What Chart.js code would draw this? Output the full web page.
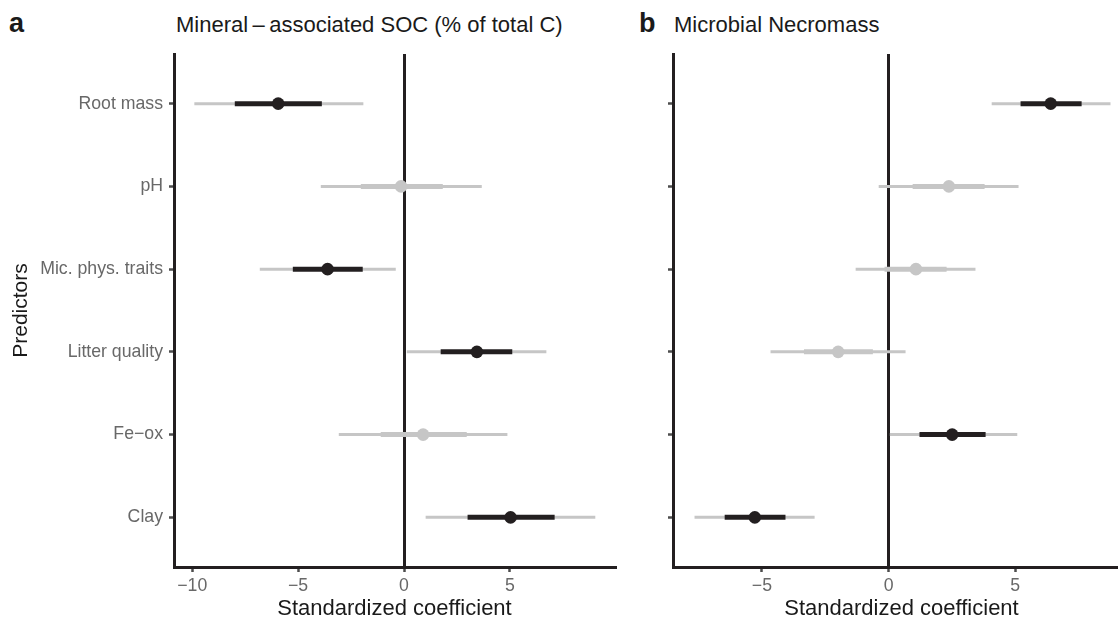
<!DOCTYPE html>
<html>
<head>
<meta charset="utf-8">
<script src="https://cdn.jsdelivr.net/npm/chart.js@4.4.1/dist/chart.umd.min.js"></script>
<style>
  html, body { margin: 0; padding: 0; background: #fff; }
  body { width: 1118px; height: 618px; overflow: hidden; position: relative; font-family: "Liberation Sans", Arial, sans-serif; }
  canvas { position: absolute; top: 0; }
  .lab { position: absolute; line-height: 1; color: #1a1a1a; white-space: nowrap; }
</style>
</head>
<body>
<div class="lab" style="left:9px;top:10px;font-size:27px;font-weight:bold">a</div>
<div class="lab" style="left:176px;top:14px;font-size:22px">Mineral&#8201;–&#8201;associated SOC (% of total C)</div>
<div class="lab" style="left:639px;top:10px;font-size:27px;font-weight:bold">b</div>
<div class="lab" style="left:674px;top:14px;font-size:22px">Microbial Necromass</div>
<canvas id="chartA" width="625" height="624" style="left:0"></canvas>
<canvas id="chartB" width="500" height="624" style="left:630px"></canvas>
<script>
// predictors, top to bottom
const predictors = ['Root mass', 'pH', 'Mic. phys. traits', 'Litter quality', 'Fe−ox', 'Clay'];

// a: mineral-associated SOC
const socEst     = [-5.94, -0.14, -3.61, 3.44, 0.90, 5.03];
const socLoOuter = [-9.90, -3.93, -6.81, 0.13, -3.08, 1.02];
const socHiOuter = [-1.92, 3.67, -0.39, 6.72, 4.88, 9.03];
const socLoInner = [-7.99, -2.04, -5.25, 1.73, -1.10, 3.00];
const socHiInner = [-3.88, 1.83, -1.95, 5.11, 2.96, 7.11];
const socSig     = [true, false, true, true, false, true];

// b: microbial necromass
const necEst     = [6.40, 2.38, 1.08, -1.99, 2.51, -5.28];
const necLoOuter = [4.07, -0.39, -1.30, -4.66, 0.05, -7.66];
const necHiOuter = [8.76, 5.13, 3.43, 0.67, 5.08, -2.92];
const necLoInner = [5.21, 0.95, -0.16, -3.34, 1.22, -6.47];
const necHiInner = [7.62, 3.79, 2.29, -0.62, 3.83, -4.07];
const necSig     = [true, false, false, false, true, true];

const BLACK = '#231f20';
const GREY = '#c6c6c6';
const TICK_GREY = '#4d4d4d';
const LABEL_GREY = '#686868';
const FONT = '"Liberation Sans", Arial, sans-serif';

// each interval becomes two points followed by a gap
function intervals(lo, hi) {
    const pts = [];
    lo.forEach((v, i) => {
        pts.push({x: v, y: i + 1}, {x: hi[i], y: i + 1}, {x: null, y: null});
    });
    return pts;
}

function makePanel(id, est, loO, hiO, loI, hiI, sig, xMin, xMax, yWidth, showLabels) {
    return new Chart(document.getElementById(id), {
        type: 'scatter',
        data: {
            datasets: [
                {
                    data: est.map((v, i) => ({x: v, y: i + 1})),
                    pointRadius: 6.3,
                    pointHoverRadius: 6.3,
                    pointBorderWidth: 0,
                    pointBackgroundColor: sig.map(s => s ? BLACK : GREY),
                    order: 0
                },
                {
                    data: intervals(loI, hiI),
                    showLine: true,
                    spanGaps: false,
                    pointRadius: 0,
                    borderWidth: 5,
                    borderColor: GREY,
                    segment: {
                        borderColor: ctx => sig[Math.floor(ctx.p0DataIndex / 3)] ? BLACK : GREY
                    },
                    order: 1
                },
                {
                    data: intervals(loO, hiO),
                    showLine: true,
                    spanGaps: false,
                    pointRadius: 0,
                    borderWidth: 3,
                    borderColor: GREY,
                    order: 2
                }
            ]
        },
        options: {
            responsive: false,
            animation: false,
            devicePixelRatio: 1,
            layout: {
                autoPadding: false,
                padding: { top: 54, right: showLabels ? 10 : 0, left: 0, bottom: 0 }
            },
            plugins: {
                legend: { display: false },
                tooltip: { enabled: false }
            },
            scales: {
                x: {
                    type: 'linear',
                    min: xMin,
                    max: xMax,
                    z: 1,
                    border: { color: BLACK, width: 3 },
                    grid: {
                        color: ctx => (ctx.tick && ctx.tick.value === 0) ? BLACK : 'rgba(0,0,0,0)',
                        lineWidth: 3,
                        tickColor: TICK_GREY,
                        tickLength: 5,
                        tickWidth: 2.5
                    },
                    ticks: {
                        stepSize: 5,
                        includeBounds: false,
                        maxRotation: 0,
                        padding: 3,
                        color: LABEL_GREY,
                        font: { family: FONT, size: 17.7 },
                        callback: v => String(v).replace('-', '−')
                    },
                    title: {
                        display: true,
                        text: 'Standardized coefficient',
                        color: '#1a1a1a',
                        font: { family: FONT, size: 22 },
                        padding: { top: 0, bottom: 2 }
                    },
                    afterFit: s => { s.height = 57; }
                },
                y: {
                    type: 'linear',
                    min: 0.4,
                    max: 6.6,
                    reverse: true,
                    border: { color: BLACK, width: 3 },
                    grid: {
                        drawOnChartArea: false,
                        tickColor: TICK_GREY,
                        tickLength: 5,
                        tickWidth: 2.5
                    },
                    ticks: {
                        stepSize: 1,
                        includeBounds: false,
                        autoSkip: false,
                        padding: 6,
                        color: LABEL_GREY,
                        font: { family: FONT, size: 17.7 },
                        callback: v => showLabels ? predictors[v - 1] : ''
                    },
                    title: {
                        display: showLabels,
                        text: 'Predictors',
                        color: '#1a1a1a',
                        font: { family: FONT, size: 21 },
                        padding: { top: 9 }
                    },
                    afterFit: s => { s.width = yWidth; }
                }
            }
        }
    });
}

makePanel('chartA', socEst, socLoOuter, socHiOuter, socLoInner, socHiInner, socSig, -10.86, 9.96, 174, true);
makePanel('chartB', necEst, necLoOuter, necHiOuter, necLoInner, necHiInner, necSig, -8.51, 9.53, 43, false);
</script>
</body>
</html>
